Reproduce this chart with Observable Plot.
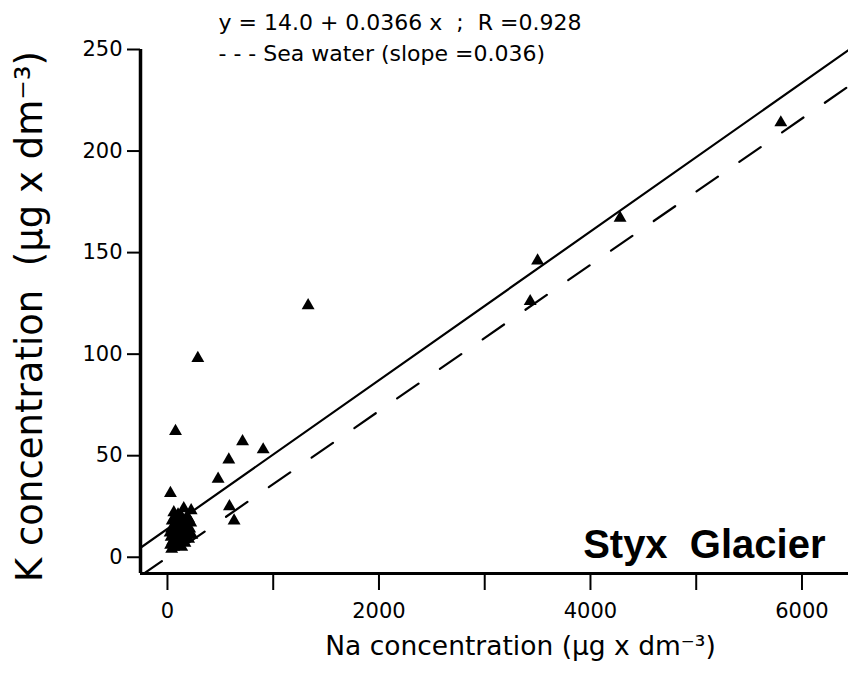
<!DOCTYPE html>
<html><head><meta charset="utf-8">
<script src="https://cdn.jsdelivr.net/npm/d3@7"></script>
<script src="https://cdn.jsdelivr.net/npm/@observablehq/plot@0.6"></script>
<style>body{margin:0;background:#fff} svg{display:block}</style>
</head><body><div id="chart"></div>
<script>
// Na and K concentrations (µg x dm^-3)
const naValues = [5800, 4280, 3500, 3430, 1330, 287, 710, 905, 580, 479, 76, 28, 586, 630,
  154, 224, 30, 35, 40, 45, 50, 55, 60, 65, 70, 75, 80, 85, 90, 95, 100, 105, 110, 115, 120,
  125, 130, 135, 140, 145, 150, 155, 160, 165, 170, 175, 180, 185, 190, 200, 210, 220, 230,
  40, 60, 25, 100, 130, 200];
const kValues = [214, 167, 146, 126, 124, 98, 57, 53, 48, 38.5, 62, 31.5, 25, 18,
  24, 23, 6, 10, 14, 18, 8, 12, 5, 16, 20, 9, 13, 7, 11, 15, 6, 18, 10, 13, 8,
  16, 12, 5, 19, 9, 14, 11, 17, 7, 13, 10, 15, 20, 12, 9, 14, 17, 11,
  4, 22, 12, 21, 20, 19];
const xTicks = [0, 1000, 2000, 3000, 4000, 5000, 6000];
const xLabeled = [0, 2000, 4000, 6000];
const yTicks = [0, 50, 100, 150, 200, 250];
const fitIntercept = 14.0, fitSlope = 0.0366, seaSlope = 0.036;
const equationText = "y = 14.0 + 0.0366 x\u00a0 ;\u00a0 R =0.928";
const seaText = "- - - Sea water (slope =0.036)";
const glacierName = "Styx\u00a0 Glacier";
const xTitle = "Na concentration (µg x dm⁻³)";
const yTitle = "K concentration\u00a0 (µg x dm⁻³)";
const xDomain = [-255, 6440], yDomain = [-8, 250];

const points = naValues.map((na, i) => ({na, k: kValues[i]}));
const fitLine = xDomain.map(x => ({x, y: fitIntercept + fitSlope * x}));
const seaLine = xDomain.map(x => ({x, y: seaSlope * x}));

const chart = Plot.plot({
  width: 848, height: 674,
  marginLeft: 140, marginRight: 0, marginTop: 49, marginBottom: 101,
  x: {domain: xDomain},
  y: {domain: yDomain},
  style: {fontFamily: "DejaVu Sans", background: "white", color: "black"},
  marks: [
    Plot.line(seaLine, {x: "x", y: "y", stroke: "black", strokeWidth: 2.2, strokeDasharray: "26,26", clip: true}),
    Plot.line(fitLine, {x: "x", y: "y", stroke: "black", strokeWidth: 2.2, clip: true}),
    Plot.dot(points, {x: "na", y: "k", symbol: "triangle", fill: "black", r: 4.8}),
    Plot.axisX({ticks: xTicks, tickFormat: d => xLabeled.includes(d) ? String(d) : "", tickSize: 17, tickPadding: 13, fontSize: 21, label: null, strokeWidth: 2}),
    Plot.axisY({ticks: yTicks, tickFormat: d => String(d), tickSize: 13, tickPadding: 5, fontSize: 21, label: null, strokeWidth: 2}),
    Plot.ruleX([xDomain[0]], {stroke: "black", strokeWidth: 3.5}),
    Plot.ruleY([yDomain[0]], {stroke: "black", strokeWidth: 3}),
    Plot.text([equationText], {frameAnchor: "top-left", textAnchor: "start", lineAnchor: "middle", dx: 78, dy: -27, fontSize: 22}),
    Plot.text([seaText], {frameAnchor: "top-left", textAnchor: "start", lineAnchor: "middle", dx: 78, dy: 4, fontSize: 22}),
    Plot.text([glacierName], {frameAnchor: "bottom-right", textAnchor: "end", lineAnchor: "middle", dx: -23, dy: -28, fontSize: 40, fontWeight: "bold", fontFamily: "Liberation Sans"}),
    Plot.text([xTitle], {frameAnchor: "bottom", textAnchor: "middle", lineAnchor: "middle", dx: 26, dy: 73, fontSize: 26.5}),
    Plot.text([yTitle], {frameAnchor: "left", textAnchor: "middle", lineAnchor: "middle", rotate: -90, dx: -110, dy: 5, fontSize: 37})
  ]
});
document.getElementById("chart").append(chart);
</script>
</body></html>
